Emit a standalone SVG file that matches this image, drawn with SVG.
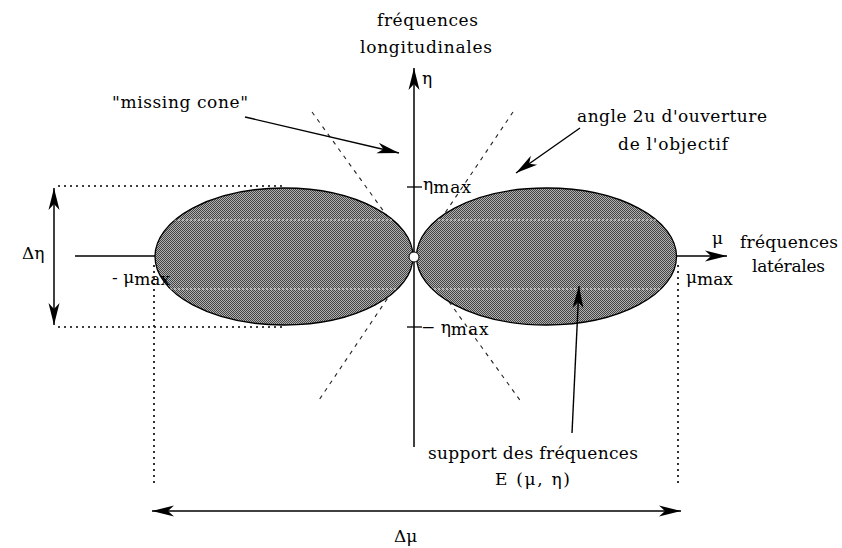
<svg xmlns="http://www.w3.org/2000/svg" width="842" height="548" viewBox="0 0 842 548">
<style>
text{font-family:"DejaVu Serif","Liberation Serif",serif;font-size:17px;fill:#000}
.ax{stroke:#000;stroke-width:1.5;fill:none}
.ar{stroke:#000;stroke-width:1.4;fill:none;marker-end:url(#ah)}
.dot{stroke:#000;stroke-width:1.6;stroke-dasharray:2 4;fill:none}
.dash{stroke:#222;stroke-width:1.1;stroke-dasharray:4 5;fill:none}
.lobe{fill:url(#dither);stroke:#000;stroke-width:1.3}
.tick{stroke:#000;stroke-width:1.3}
</style>
<defs>
<pattern id="dither" width="2" height="2" patternUnits="userSpaceOnUse"><rect width="2" height="2" fill="#b0b0b0"/><rect width="1" height="1" fill="#444"/><rect x="1" y="1" width="1" height="1" fill="#444"/></pattern>
<marker id="ah" viewBox="-23 -7 24 14" refX="0" refY="0" markerWidth="24" markerHeight="14" markerUnits="userSpaceOnUse" orient="auto-start-reverse"><path d="M0,0 L-22,-5.5 L-16,0 L-22,5.5 Z" fill="#000"/></marker>
<clipPath id="lobes"><ellipse cx="284" cy="256.5" rx="129" ry="68.5"/><ellipse cx="546.5" cy="256.5" rx="130" ry="68.5"/></clipPath>
</defs>
<rect width="842" height="548" fill="#fff"/>

<g id="cone">
<line class="dash" x1="312" y1="112" x2="522" y2="403"/>
<line class="dash" x1="513" y1="112" x2="317" y2="403"/>
</g>

<g id="extent-guides">
<line class="dot" x1="58" y1="186" x2="284" y2="186"/>
<line class="dot" x1="58" y1="327" x2="284" y2="327"/>
<line class="dot" x1="154" y1="265" x2="154" y2="486"/>
<line class="dot" x1="678" y1="265" x2="678" y2="486"/>
</g>

<g id="mu-axis">
<line class="ax" x1="75" y1="256" x2="727" y2="256" marker-end="url(#ah)"/>
</g>

<g id="lobe-left">
<ellipse class="lobe" cx="284" cy="256.5" rx="129" ry="68.5"/>
</g>
<g id="lobe-right">
<ellipse class="lobe" cx="546.5" cy="256.5" rx="130" ry="68.5"/>
</g>
<g id="lobe-lines" clip-path="url(#lobes)">
<line x1="150" y1="220" x2="680" y2="220" stroke="#e8e8e8" stroke-width="1" stroke-dasharray="2 2"/>
<line x1="150" y1="289" x2="680" y2="289" stroke="#e8e8e8" stroke-width="1" stroke-dasharray="2 2"/>
</g>

<g id="eta-axis">
<line class="ax" x1="414" y1="447" x2="414" y2="68" marker-end="url(#ah)"/>
<line class="tick" x1="407" y1="187" x2="422" y2="187"/>
<line class="tick" x1="407" y1="327" x2="422" y2="327"/>
<circle cx="414" cy="257" r="5" fill="#fff" stroke="#000" stroke-width="1"/>
</g>

<g id="connectors">
<line class="ax" x1="54" y1="188" x2="54" y2="325" marker-start="url(#ah)" marker-end="url(#ah)"/>
<line class="ax" x1="152" y1="511" x2="681" y2="511" marker-start="url(#ah)" marker-end="url(#ah)"/>
<line class="ar" x1="245" y1="117" x2="399" y2="153"/>
<line class="ar" x1="580" y1="128" x2="516" y2="173"/>
<line class="ar" x1="572" y1="433" x2="579" y2="286"/>
</g>

<g id="labels">
<text x="377" y="26" textLength="101" lengthAdjust="spacing">fréquences</text>
<text x="360" y="53" textLength="132" lengthAdjust="spacing">longitudinales</text>
<text x="422" y="84">η</text>
<text x="112" y="108" textLength="136" lengthAdjust="spacing">"missing cone"</text>
<text x="577" y="122" textLength="190" lengthAdjust="spacing">angle 2u d'ouverture</text>
<text x="618" y="150" textLength="110" lengthAdjust="spacing">de l'objectif</text>
<text x="423" y="190">η<tspan dy="3" letter-spacing="1">max</tspan></text>
<text x="421" y="333">− η<tspan dy="2" letter-spacing="1">max</tspan></text>
<text x="22" y="259">Δη</text>
<text x="112" y="283">- μ<tspan dy="2">max</tspan></text>
<text x="712" y="244">μ</text>
<text x="740" y="248" textLength="98" lengthAdjust="spacing">fréquences</text>
<text x="752" y="272" textLength="73" lengthAdjust="spacing">latérales</text>
<text x="686" y="283">μ<tspan dy="2">max</tspan></text>
<text x="428" y="459" textLength="210" lengthAdjust="spacing">support des fréquences</text>
<text x="495" y="485" textLength="75" lengthAdjust="spacing">E (μ, η)</text>
<text x="394" y="542">Δμ</text>
</g>
</svg>
